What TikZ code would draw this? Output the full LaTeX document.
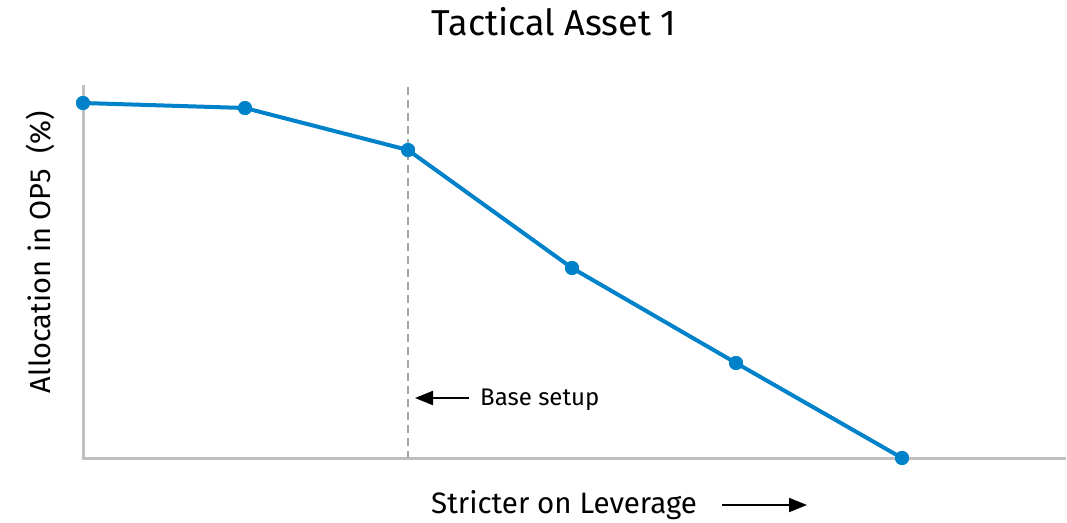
\documentclass[tikz,border=0pt]{standalone}
\usepackage{fontspec}
\setmainfont{Fira Sans}
\usetikzlibrary{arrows.meta}
\definecolor{seriesblue}{HTML}{0082CA}
\definecolor{axisgray}{HTML}{BFBFBF}
\definecolor{guidegray}{HTML}{A6A6A6}
\tikzset{
  axisline/.style={draw=axisgray, line width=3pt},
  guideline/.style={draw=guidegray, line width=2pt, dash pattern=on 8pt off 5pt},
  series/.style={draw=seriesblue, line width=4pt, line join=round},
  marker/.style={circle, fill=seriesblue, inner sep=0pt, minimum size=14pt},
  pointer/.style={-{Stealth[length=18pt,width=14pt,inset=0pt]}, line width=2pt, black},
}
\begin{document}
\begin{tikzpicture}[x=1pt, y=-1pt]
  \useasboundingbox (0,0) rectangle (1067,522);
  % axes
  \coordinate (ytop) at (83,85);
  \coordinate (origin) at (83,458);
  \coordinate (xend) at (1066,458);
  \draw[axisline] (ytop) -- (origin) -- (xend);
  % base setup guide
  \coordinate (gtop) at (408,87);
  \coordinate (gbot) at (408,458);
  \draw[guideline] (gtop) -- (gbot);
  % data points
  \node[marker] (p1) at (83,103) {};
  \node[marker] (p2) at (245,108) {};
  \node[marker] (p3) at (408,150) {};
  \node[marker] (p4) at (572,268) {};
  \node[marker] (p5) at (736,363) {};
  \node[marker] (p6) at (902,458) {};
  \draw[series] (p1.center) -- (p2.center) -- (p3.center) -- (p4.center) -- (p5.center) -- (p6.center);
  \foreach \p in {p1,p2,p3,p4,p5,p6} \node[marker] at (\p) {};
  % labels
  \node[font=\fontsize{36}{42}\selectfont] (title) at (554,22) {Tactical Asset 1};
  \node[font=\fontsize{29}{34}\selectfont, rotate=90] (ylab) at (40,252) {Allocation in OP5\ \ (\%)};
  \node[font=\fontsize{29.5}{34}\selectfont, anchor=west, inner sep=0pt] (xlab) at (431,505) {Stricter on Leverage};
  \coordinate (xa1) at (722,505);
  \coordinate (xa2) at (807,505);
  \draw[pointer] (xa1) -- (xa2);
  \node[font=\fontsize{24}{28}\selectfont, anchor=west, inner sep=0pt] (blab) at (480,400) {Base setup};
  \coordinate (ba1) at (469,398);
  \coordinate (ba2) at (415,398);
  \draw[pointer] (ba1) -- (ba2);
\end{tikzpicture}
\end{document}
